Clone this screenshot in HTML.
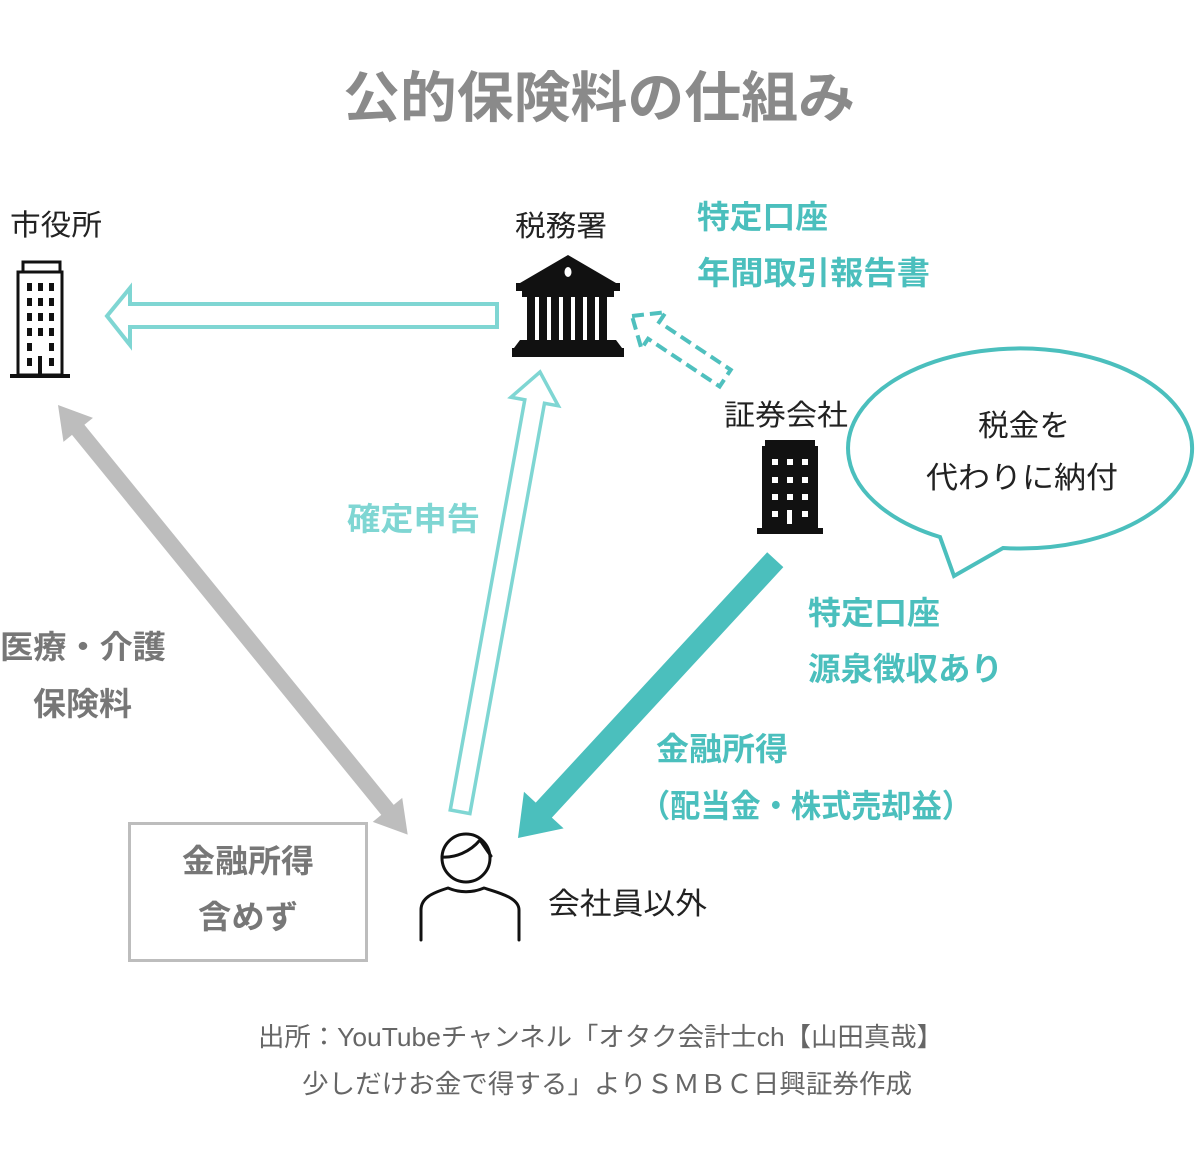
<!DOCTYPE html>
<html><head><meta charset="utf-8"><style>
html,body{margin:0;padding:0;background:#fff;}
svg{display:block;}
text{font-family:"Liberation Sans","Noto Sans CJK JP",sans-serif;}
</style></head><body>
<svg width="1200" height="1164" viewBox="0 0 1200 1164" xmlns="http://www.w3.org/2000/svg">
<text x="343" y="117" textLength="512" lengthAdjust="spacingAndGlyphs" font-size="55" font-weight="bold" fill="#8a8a8a">公的保険料の仕組み</text>

<text x="10" y="235" textLength="92" lengthAdjust="spacingAndGlyphs" font-size="29" fill="#222">市役所</text>
<g>
<rect x="23" y="262" width="37" height="10" fill="none" stroke="#111" stroke-width="3"/>
<rect x="18" y="272" width="44" height="103" fill="none" stroke="#111" stroke-width="3"/>
<rect x="10" y="374" width="60" height="4" fill="#111"/>
<g fill="#111">
<rect x="27" y="283" width="5" height="8"/><rect x="38" y="283" width="5" height="8"/><rect x="49" y="283" width="5" height="8"/>
<rect x="27" y="298" width="5" height="8"/><rect x="38" y="298" width="5" height="8"/><rect x="49" y="298" width="5" height="8"/>
<rect x="27" y="313" width="5" height="8"/><rect x="38" y="313" width="5" height="8"/><rect x="49" y="313" width="5" height="8"/>
<rect x="27" y="328" width="5" height="8"/><rect x="38" y="328" width="5" height="8"/><rect x="49" y="328" width="5" height="8"/>
<rect x="27" y="343" width="5" height="8"/><rect x="49" y="343" width="5" height="8"/>
<rect x="27" y="358" width="5" height="8"/><rect x="49" y="358" width="5" height="8"/>
<rect x="38" y="356" width="4" height="20"/>
</g>
</g>

<text x="515" y="236" textLength="92" lengthAdjust="spacingAndGlyphs" font-size="29" fill="#222">税務署</text>
<g fill="#111">
<polygon points="568,255 520,283 616,283"/>
<rect x="516" y="283" width="104" height="8"/>
<rect x="522" y="291" width="92" height="6"/>
<rect x="527" y="297" width="8" height="43"/><rect x="539" y="297" width="8" height="43"/><rect x="551" y="297" width="8" height="43"/>
<rect x="563" y="297" width="8" height="43"/><rect x="575" y="297" width="8" height="43"/><rect x="587" y="297" width="8" height="43"/><rect x="599" y="297" width="8" height="43"/>
<polygon points="520,340 616,340 622,348 514,348"/>
<rect x="512" y="348" width="112" height="9"/>
</g>
<ellipse cx="568" cy="272" rx="3.5" ry="5" fill="#fff"/>

<polygon points="497,304 130,304 130,288 107,316 130,345 130,327 497,327" fill="none" stroke="#7fd6d3" stroke-width="4" stroke-linejoin="miter"/>

<g transform="translate(632,316) rotate(33.7)">
<polygon points="0,0 26,-22 26,-10 112,-10 112,10 26,10 26,22" fill="none" stroke="#4fc0be" stroke-width="4" stroke-dasharray="12,6"/>
</g>

<g transform="translate(540,372) rotate(100.3)">
<polygon points="0,0 30,-24 30,-10 447,-10 447,10 30,10 30,24" fill="none" stroke="#7fd6d3" stroke-width="3.5"/>
</g>

<g transform="translate(58,405) rotate(50.86)">
<polygon points="0,0 32,-19 32,-8 522,-8 522,-19 554,0 522,19 522,8 32,8 32,19" fill="#bdbdbd"/>
</g>

<g transform="translate(518,838) rotate(-47.25)">
<polygon points="0,0 38,-27 38,-11 379,-11 379,11 38,11 38,27" fill="#4bbfbd"/>
</g>

<text x="724" y="425" textLength="124" lengthAdjust="spacingAndGlyphs" font-size="29" fill="#222">証券会社</text>
<g>
<path d="M765,446 L765,440 L815,440 L815,446 L818,446 L818,528 L823,528 L823,534 L757,534 L757,528 L762,528 L762,446 Z" fill="#111"/>
<g fill="#fff">
<rect x="772" y="459" width="6" height="6"/><rect x="787" y="459" width="6" height="6"/><rect x="802" y="459" width="6" height="6"/>
<rect x="772" y="477" width="6" height="6"/><rect x="787" y="477" width="6" height="6"/><rect x="802" y="477" width="6" height="6"/>
<rect x="772" y="494" width="6" height="6"/><rect x="787" y="494" width="6" height="6"/><rect x="802" y="494" width="6" height="6"/>
<rect x="772" y="511" width="6" height="6"/><rect x="787" y="510" width="5" height="14"/><rect x="802" y="511" width="6" height="6"/>
</g>
</g>

<path d="M940,537 A172,100 0 1 1 1003,548 L954,576 Z" fill="#fff" stroke="#4bbfbd" stroke-width="4" stroke-linejoin="miter"/>
<text x="978" y="436" textLength="92" lengthAdjust="spacingAndGlyphs" font-size="30" fill="#222">税金を</text>
<text x="926" y="488" textLength="192" lengthAdjust="spacingAndGlyphs" font-size="30" fill="#222">代わりに納付</text>

<g font-size="32" font-weight="bold" fill="#4bbfbd">
<text x="697" y="228" textLength="131" lengthAdjust="spacingAndGlyphs">特定口座</text>
<text x="697" y="284" textLength="233" lengthAdjust="spacingAndGlyphs">年間取引報告書</text>
<text x="808" y="624" textLength="132" lengthAdjust="spacingAndGlyphs">特定口座</text>
<text x="808" y="680" textLength="195" lengthAdjust="spacingAndGlyphs">源泉徴収あり</text>
<text x="656" y="760" textLength="132" lengthAdjust="spacingAndGlyphs">金融所得</text>
<text x="640" y="817" textLength="332" lengthAdjust="spacingAndGlyphs">（配当金・株式売却益）</text>
</g>
<text x="347" y="530" textLength="133" lengthAdjust="spacingAndGlyphs" font-size="32" font-weight="bold" fill="#7fd6d3">確定申告</text>

<g font-size="32" font-weight="bold" fill="#777">
<text x="0" y="658" textLength="166" lengthAdjust="spacingAndGlyphs">医療・介護</text>
<text x="33" y="715" textLength="99" lengthAdjust="spacingAndGlyphs">保険料</text>
</g>

<rect x="129.5" y="823.5" width="237" height="137" fill="#fff" stroke="#bdbdbd" stroke-width="3"/>
<g font-size="32" font-weight="bold" fill="#777">
<text x="182" y="872" textLength="132" lengthAdjust="spacingAndGlyphs">金融所得</text>
<text x="198" y="928" textLength="100" lengthAdjust="spacingAndGlyphs">含めず</text>
</g>

<g fill="none" stroke="#111" stroke-width="3" stroke-linecap="round" stroke-linejoin="round">
<circle cx="466" cy="858" r="24"/>
<path d="M442,857 C455,858 470,852 480,840 C484,846 488,852 491,856"/>
<path d="M421,940 L421,910 C421,898 432,893 448,888 C460,893 472,893 484,888 C500,893 519,898 519,910 L519,940"/>
</g>
<text x="548" y="914" textLength="159" lengthAdjust="spacingAndGlyphs" font-size="30" fill="#222">会社員以外</text>

<g font-size="26" fill="#666">
<text x="258" y="1046" textLength="685" lengthAdjust="spacingAndGlyphs">出所：YouTubeチャンネル「オタク会計士ch【山田真哉】</text>
<text x="302" y="1093" textLength="610" lengthAdjust="spacingAndGlyphs">少しだけお金で得する」よりＳＭＢＣ日興証券作成</text>
</g>
</svg>
</body></html>
